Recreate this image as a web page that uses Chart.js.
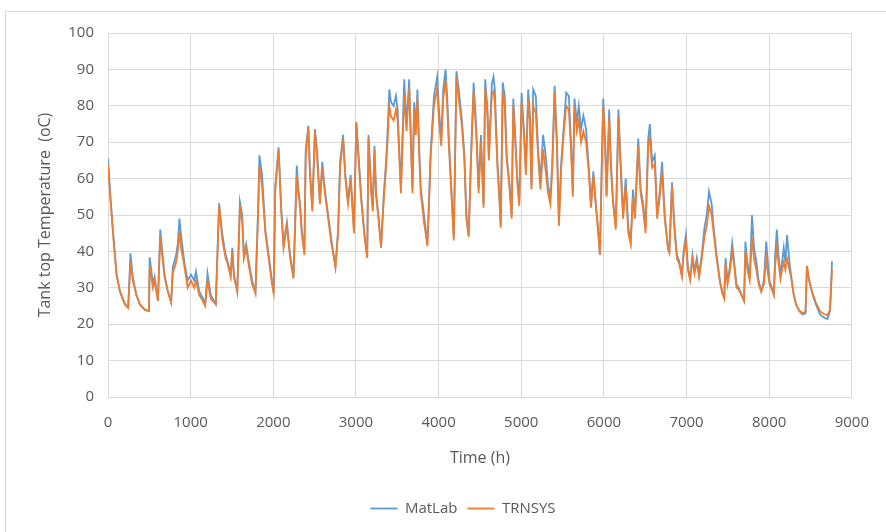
<!DOCTYPE html>
<html>
<head>
<meta charset="utf-8">
<script src="https://cdn.jsdelivr.net/npm/chart.js@4.4.1/dist/chart.umd.min.js"></script>
<style>
  body { margin: 0; background: #fff; }
  #wrap { position: relative; width: 886px; height: 532px; }
  #frame { position: absolute; left: 5px; top: 11px; right: 0; bottom: 0; border-top: 1px solid #d9d9d9; border-left: 1px solid #d9d9d9; }
  canvas { position: absolute; left: 0; top: 0; }
</style>
</head>
<body>
<div id="wrap">
  <div id="frame"></div>
  <canvas id="chart" width="886" height="532"></canvas>
</div>
<script>
// hours
const hours = [
  0, 30, 64, 104, 144, 204, 244, 272, 300, 344, 384, 444, 496, 504, 544, 564, 604, 632, 684, 724,
  764, 784, 824, 844, 864, 884, 924, 964, 1004, 1044, 1064, 1104, 1144, 1176, 1204, 1244, 1304, 1344, 1384, 1424,
  1444, 1484, 1504, 1524, 1564, 1596, 1624, 1644, 1672, 1704, 1744, 1784, 1816, 1832, 1864, 1904, 1944, 1984, 2004, 2024,
  2064, 2096, 2124, 2164, 2204, 2244, 2284, 2304, 2324, 2344, 2376, 2392, 2424, 2444, 2472, 2504, 2532, 2564, 2592, 2624,
  2664, 2704, 2752, 2784, 2808, 2844, 2872, 2904, 2936, 2976, 3004, 3032, 3064, 3104, 3136, 3152, 3184, 3204, 3224, 3244,
  3272, 3304, 3336, 3364, 3384, 3404, 3424, 3456, 3484, 3504, 3524, 3544, 3584, 3612, 3644, 3664, 3684, 3704, 3724, 3744,
  3764, 3784, 3824, 3864, 3884, 3904, 3944, 3984, 4004, 4032, 4056, 4084, 4104, 4124, 4152, 4184, 4216, 4244, 4284, 4312,
  4336, 4364, 4392, 4424, 4456, 4484, 4512, 4544, 4564, 4592, 4608, 4644, 4664, 4680, 4712, 4736, 4752, 4776, 4800, 4824,
  4856, 4884, 4904, 4924, 4952, 4976, 5004, 5032, 5056, 5084, 5104, 5124, 5144, 5176, 5204, 5232, 5264, 5296, 5324, 5352,
  5376, 5404, 5432, 5456, 5484, 5512, 5544, 5576, 5604, 5624, 5644, 5672, 5696, 5724, 5752, 5784, 5816, 5844, 5872, 5904,
  5936, 5952, 5976, 5992, 6016, 6032, 6064, 6084, 6112, 6144, 6176, 6204, 6232, 6264, 6296, 6324, 6352, 6376, 6416, 6444,
  6472, 6504, 6536, 6556, 6584, 6616, 6644, 6672, 6704, 6736, 6776, 6792, 6824, 6856, 6884, 6912, 6944, 6964, 6992, 7016,
  7044, 7072, 7096, 7124, 7152, 7184, 7216, 7244, 7272, 7304, 7328, 7364, 7404, 7432, 7456, 7472, 7496, 7524, 7552, 7576,
  7604, 7632, 7664, 7696, 7712, 7736, 7764, 7792, 7816, 7844, 7872, 7904, 7936, 7964, 7984, 8004, 8032, 8056, 8072, 8092,
  8112, 8136, 8156, 8176, 8196, 8216, 8244, 8264, 8296, 8324, 8364, 8404, 8440, 8456, 8484, 8524, 8564, 8616, 8664, 8704,
  8736, 8760
];

const matlab = [
  65.5, 55, 44.5, 33.6, 29, 25.5, 24.5, 39.5, 33, 28, 25.5, 24, 23.6, 38.4, 31, 33, 26.4, 46, 33.6, 29,
  26, 35.7, 39, 42, 49, 44.5, 37, 32, 33.6, 32, 34.5, 29, 27.3, 25.5, 34, 28, 25.5, 53.2, 44.5, 39,
  37.5, 33.6, 41, 33.6, 29, 53.6, 50, 39, 42, 37, 32, 28.6, 51.8, 66.4, 61, 46, 39, 32, 28.6, 58,
  68.6, 51.8, 42, 48, 39, 33, 63.6, 57, 53, 46, 40, 68, 74.5, 62, 52, 73.6, 67, 53.6, 64.6, 57,
  50, 43, 35.7, 46, 64.6, 72, 61, 53.6, 61, 46, 75.5, 66.4, 55, 44.5, 38.2, 72, 57.4, 52, 69, 56,
  50, 41, 55.5, 64.6, 73.6, 84.5, 81, 80, 82.7, 79, 68, 57.4, 87.3, 75, 87.3, 72, 57.4, 81, 74, 84.5,
  69, 57.4, 50, 42, 54, 67.4, 82.7, 88, 79, 71, 84.5, 90, 82.7, 71, 58.2, 43.6, 89.5, 84.5, 75.5, 66.4,
  50, 44.5, 66.4, 86.4, 74, 57.4, 72, 53, 87.3, 79, 66, 86, 88, 84.5, 64.6, 55.5, 47.3, 86.4, 82.7, 66.4,
  59, 50, 82, 73.6, 60, 53.6, 83.6, 73.6, 62.7, 84.5, 78, 58.2, 84.5, 82.7, 68.2, 59, 72, 66.4, 58.2, 54.7,
  64.6, 85.5, 70, 48.2, 64.6, 73.6, 83.6, 82.7, 69, 56.4, 82, 75.5, 80, 73.6, 77.3, 73.6, 63.6, 52.7, 62, 52.7,
  44.5, 39, 66.4, 82, 70, 55.5, 79, 64.6, 53.6, 47, 79, 64, 50, 60, 46.4, 42.7, 57, 50, 71, 57.4,
  53.6, 46.4, 71, 75, 64.6, 66.4, 50, 55.5, 64.6, 50, 41, 40, 59, 46.4, 39, 37.3, 33.6, 40, 44.5, 35.7,
  32.7, 39, 34.5, 38.2, 33.6, 39, 46.4, 50, 56.4, 53, 46.4, 39, 32, 29, 27.3, 38.2, 32, 35.7, 42.3, 37.3,
  31, 30, 28.2, 26.4, 42.7, 37, 32.7, 50, 41, 37.3, 32, 29, 32, 42.7, 37, 32, 30, 28.2, 39, 46,
  39, 33.6, 37, 41, 37, 44.5, 37.3, 33.6, 28.2, 25.5, 23.6, 22.7, 23, 36, 32, 28.2, 25.5, 22.7, 21.8, 21.4,
  23.6, 37.3
];

const trnsys = [
  64, 54, 44, 33.6, 29, 25.5, 24.5, 37, 32, 28, 25.5, 24, 23.6, 36, 30, 32, 26.4, 44, 33, 29,
  26, 34, 37, 40, 45.5, 41, 36, 30, 32, 30, 32, 28, 26.5, 25, 32, 27, 25.5, 52.5, 43, 38,
  37, 33, 40, 33, 29, 52.5, 48, 38, 41, 36, 31, 28.6, 50, 63.5, 58, 45, 38, 31, 28.6, 57,
  68, 51, 41, 47, 38, 32.5, 61, 56, 52, 45, 39, 66, 74, 61, 51, 73, 65, 53, 63, 56,
  49, 42, 35.7, 45, 63, 71, 60, 53, 60, 45, 75.5, 65, 54, 44, 38.2, 71, 56, 51, 68, 55,
  49, 41, 54, 63, 71, 80, 77, 76, 79, 76, 66, 56, 83, 73, 85, 70, 56, 79, 72, 82,
  67, 56, 48, 41.5, 53, 66, 80, 85, 76, 69, 82, 87, 80, 69, 57, 43, 88, 82, 74, 65,
  49, 44, 65, 84, 72, 56, 70, 52, 85, 77, 65, 83, 84, 81, 63, 54, 46.5, 84, 80, 65,
  58, 49, 80, 72, 59, 52.5, 81, 72, 61, 82, 76, 57, 80, 78, 66, 57, 68, 62, 56, 53,
  63, 84, 68, 47, 63, 72, 80, 79, 67, 55, 80, 73, 76, 70, 73, 70, 62, 52, 61, 52,
  44, 39, 65, 80, 68, 55, 77, 63, 53, 46, 77, 62, 49, 58, 45, 42, 55, 49, 69, 56,
  52, 45, 69, 71, 63, 64, 49, 54, 62, 49, 40.5, 39.5, 58, 45, 38, 36.5, 33, 39, 43, 35,
  32, 38, 34, 37, 33, 38, 44, 47, 52.5, 50, 45, 38, 31.5, 28.5, 27, 36.5, 31, 34.5, 40, 36,
  30, 29.5, 28, 26.4, 40, 35, 32, 44, 38, 35, 31, 29, 31, 38, 34, 31, 29.5, 28, 36, 41,
  37, 32.5, 35, 37, 35, 38, 35, 33, 28.2, 25.5, 23.8, 23, 23.5, 36, 32, 28.5, 26, 23.5, 22.8, 22.5,
  24, 35
];

const xTicks = [0, 1000, 2000, 3000, 4000, 5000, 6000, 7000, 8000, 9000];
const yTicks = [0, 10, 20, 30, 40, 50, 60, 70, 80, 90, 100];

const gray = '#595959';
const gridGray = '#d9d9d9';
const font = 'Open Sans';

function points(values) {
  return hours.map((h, i) => ({ x: h, y: values[i] }));
}

// move the legend so it sits where Excel put it
const legendShift = {
  id: 'legendShift',
  afterLayout(chart) {
    const lg = chart.legend;
    const dx = 463 - (lg.left + lg.right) / 2;
    lg.left += dx;
    lg.right += dx;
  }
};

new Chart(document.getElementById('chart'), {
  type: 'line',
  data: {
    datasets: [
      { label: 'MatLab', data: points(matlab), borderColor: '#5b9bd5', backgroundColor: '#5b9bd5', borderWidth: 1.8, pointRadius: 0, order: 1 },
      { label: 'TRNSYS', data: points(trnsys), borderColor: '#ed7d31', backgroundColor: '#ed7d31', borderWidth: 1.8, pointRadius: 0, order: 0 }
    ]
  },
  options: {
    responsive: false,
    animation: false,
    layout: { padding: { left: 5, top: 33, right: 27, bottom: 6 } },
    plugins: {
      tooltip: { enabled: false },
      legend: {
        position: 'bottom',
        labels: {
          usePointStyle: true,
          pointStyle: 'line',
          pointStyleWidth: 27,
          padding: 10,
          color: gray,
          font: { family: font, size: 15 },
          sort: (a, b) => a.datasetIndex - b.datasetIndex
        }
      }
    },
    scales: {
      x: {
        type: 'linear',
        min: 0,
        max: 9000,
        afterBuildTicks: s => { s.ticks = xTicks.map(v => ({ value: v })); },
        afterFit: s => { s.height = 94; },
        ticks: { color: gray, font: { family: font, size: 15 }, padding: 17, maxRotation: 0, callback: v => String(v) },
        grid: { color: gridGray, drawTicks: false },
        border: { color: gridGray },
        title: { display: true, text: 'Time (h)', color: gray, font: { family: font, size: 16 }, padding: { top: 0, bottom: 23 } }
      },
      y: {
        min: 0,
        max: 100,
        afterBuildTicks: s => { s.ticks = yTicks.map(v => ({ value: v })); },
        afterFit: s => { s.width = 103; },
        ticks: { color: gray, font: { family: font, size: 15 }, padding: 14 },
        grid: { color: gridGray, drawTicks: false },
        border: { color: gridGray },
        title: { display: true, text: 'Tank top Temperature  (oC)', color: gray, font: { family: font, size: 16 }, padding: { top: 31, bottom: 0 } }
      }
    }
  },
  plugins: [legendShift]
});
</script>
</body>
</html>
